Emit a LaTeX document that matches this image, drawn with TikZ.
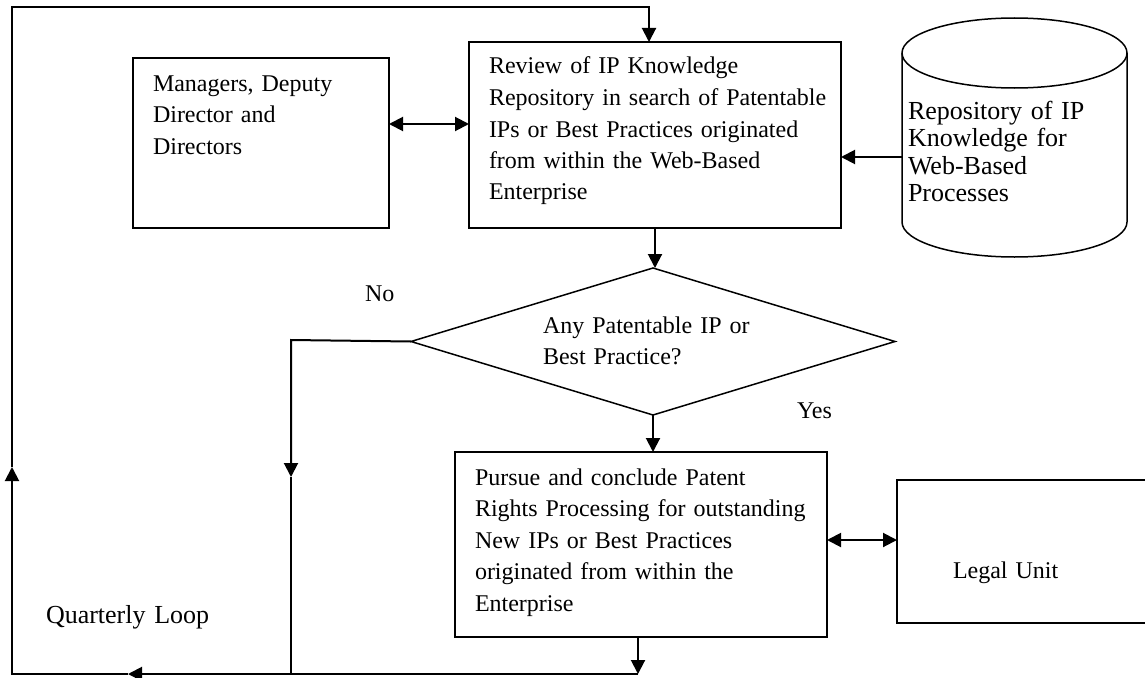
\documentclass[tikz,border=0pt]{standalone}
\usepackage{fontspec}
\setmainfont{Liberation Serif}
\usetikzlibrary{arrows.meta,shapes.geometric}
\begin{document}
\begin{tikzpicture}[x=1pt,y=-1pt,
  box/.style={draw,line width=1.9pt,rectangle,inner sep=0pt,outer sep=0pt,anchor=north west},
  txt/.style={font=\fontsize{24}{31.5}\selectfont,inner sep=0pt,outer sep=0pt,align=left,text width=#1,anchor=base west},
  txt/.default=400pt,
  conn/.style={line width=2pt},
  tip/.style={-{Triangle[length=14pt,width=14pt]}},
  dtip/.style={{Triangle[length=14pt,width=14pt]}-{Triangle[length=14pt,width=14pt]}},
  thinline/.style={line width=1.5pt}
]
\useasboundingbox (0,0) rectangle (1145,677);
\fill[white] (0,0) rectangle (1145,677);

% boxes
\node[box,minimum width=256pt,minimum height=170pt] (mgr) at (133,58) {};
\node[box,minimum width=372pt,minimum height=186pt] (rev) at (469,42) {};
\node[box,minimum width=372pt,minimum height=185pt] (pur) at (455,452) {};
\node[box,minimum width=262pt,minimum height=143pt] (legal) at (897,480) {};
\node[diamond,draw,thinline,minimum width=484pt,minimum height=147pt,aspect=3.29,inner sep=0pt,outer sep=0pt] (dec) at (653,341.5) {};

% knowledge repository (cylinder)
\node[inner sep=0pt,outer sep=0pt,minimum width=225pt,minimum height=239pt,anchor=north west] (repo) at (902,18) {};
\draw[thinline] (902,53) -- (902,222) arc[start angle=180,end angle=0,x radius=112.5,y radius=35] -- (1127,53);
\draw[thinline] (1014.5,53) ellipse[x radius=112.5,y radius=35];

% texts
\node[txt] (mgrtxt) at (153,91) {Managers, Deputy\\Director and\\Directors};
\node[txt] (revtxt) at (489,74) {Review of IP Knowledge\\Repository in search of Patentable\\IPs or Best Practices originated\\from within the Web-Based\\Enterprise};
\node[txt,font=\fontsize{26}{27.5}\selectfont] (repotxt) at (908,119) {Repository of IP\\Knowledge for\\Web-Based\\Processes};
\node[txt] (dectxt) at (543,333) {Any Patentable IP or\\Best Practice?};
\node[txt] (purtxt) at (475,485) {Pursue and conclude Patent\\Rights Processing for outstanding\\New IPs or Best Practices\\originated from within the\\Enterprise};
\node[txt] (legaltxt) at (953,578) {Legal Unit};
\node[txt] (nolbl) at (365,301) {No};
\node[txt] (yeslbl) at (797,418) {Yes};
\node[txt,font=\fontsize{26}{31.5}\selectfont] (looplbl) at (46,623) {Quarterly Loop};

% helper coordinates
\coordinate (ymgr) at (0,124);
\coordinate (yrepo) at (0,157);
\coordinate (ylegal) at (0,540);
\coordinate (loopbr) at (638,674);
\coordinate (lbarrow) at (128,674);
\coordinate (loopbl) at (12,674);
\coordinate (luparrow) at (12,467);
\coordinate (looptl) at (12,7);
\coordinate (looptr) at (649,7);
\coordinate (nocorner) at (291,340);
\coordinate (noarrow) at (291,477);

% connectors
\draw[conn,dtip] (mgr.east |- ymgr) -- (rev.west |- ymgr);
\draw[conn,tip] (repo.west |- yrepo) -- (rev.east |- yrepo);
\draw[conn,tip] (rev.south) -- (rev.south |- dec.north);
\draw[conn,tip] (dec.south) -- (dec.south |- pur.north);
\draw[conn,dtip] (pur.east |- ylegal) -- (legal.west |- ylegal);
\draw[conn,tip] (pur.south -| loopbr) -- (loopbr);
\draw[conn,tip] (loopbr) -- (lbarrow);
\draw[conn,tip] (lbarrow) -- (loopbl) -- (luparrow);
\draw[conn,tip] (luparrow) -- (looptl) -- (looptr) -- (looptr |- rev.north);
\draw[conn,tip] (dec.west) -- (nocorner) -- (noarrow);
\draw[conn] (noarrow) -- (noarrow |- loopbr);
\end{tikzpicture}
\end{document}
